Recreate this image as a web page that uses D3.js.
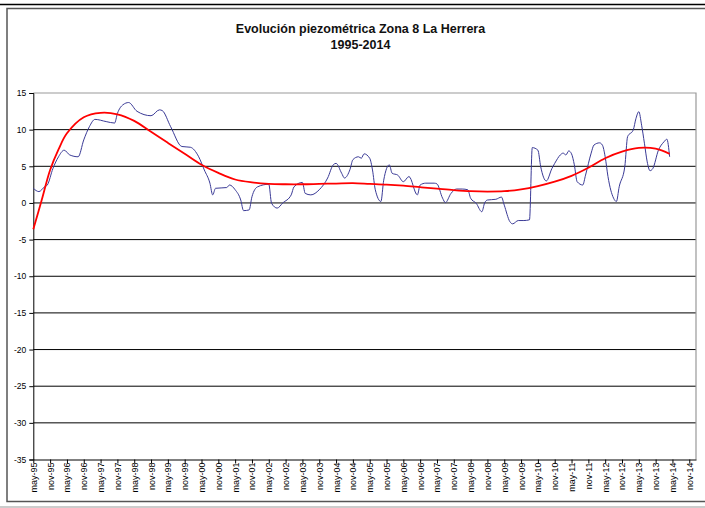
<!DOCTYPE html>
<html>
<head>
<meta charset="utf-8">
<script src="https://cdn.jsdelivr.net/npm/d3@7/dist/d3.min.js"></script>
<style>
  html, body { margin: 0; padding: 0; background: #fff; }
  svg { display: block; }
  text { font-family: "Liberation Sans", Arial, sans-serif; }
</style>
</head>
<body>
<svg id="chart" width="705" height="508"></svg>
<script>
// Piezometric level readings, Zona 8 La Herrera (month "YYYY-MM", level)
const levelMonths = [
  "1995-05","1995-07","1995-09","1995-10","1995-12","1996-02","1996-04","1996-06","1996-09","1996-11",
  "1997-01","1997-03","1997-07","1997-10","1997-11","1998-01","1998-03","1998-06","1998-11","1999-02",
  "1999-03","1999-06","1999-10","2000-01","2000-04","2000-06","2000-08","2000-09","2000-10","2001-02",
  "2001-03","2001-05","2001-07","2001-08","2001-10","2001-11","2002-01","2002-05","2002-06","2002-08",
  "2002-10","2003-01","2003-02","2003-05","2003-06","2003-08","2003-11","2004-02","2004-04","2004-05",
  "2004-07","2004-08","2004-10","2004-11","2005-01","2005-02","2005-03","2005-05","2005-06","2005-07",
  "2005-09","2005-10","2005-12","2006-01","2006-03","2006-05","2006-07","2006-10","2006-11","2007-01",
  "2007-04","2007-05","2007-07","2007-08","2007-10","2007-12","2008-02","2008-04","2008-05","2008-07",
  "2008-09","2008-10","2008-11","2009-02","2009-04","2009-05","2009-07","2009-08","2009-10","2009-12",
  "2010-02","2010-03","2010-05","2010-06","2010-08","2010-10","2010-11","2011-01","2011-02","2011-03",
  "2011-04","2011-05","2011-06","2011-07","2011-09","2011-10","2011-12","2012-01","2012-03","2012-04",
  "2012-05","2012-06","2012-08","2012-09","2012-10","2012-12","2013-01","2013-03","2013-04","2013-05",
  "2013-06","2013-07","2013-08","2013-09","2013-10","2013-12","2014-02","2014-03","2014-04"
];
const levelValues = [
  2.0, 1.55, 2.2, 2.45, 4.7, 6.3, 7.2, 6.55, 6.3, 8.6,
  10.4, 11.4, 11.1, 10.9, 12.2, 13.4, 13.7, 12.5, 11.9, 12.7,
  12.6, 10.4, 7.7, 7.6, 6.3, 4.5, 2.7, 1.1, 2.0, 2.1,
  2.45, 1.8, 0.4, -1.05, -0.95, 0.85, 2.2, 2.55, -0.05, -0.7,
  0.0, 1.1, 2.2, 2.8, 1.3, 1.1, 1.8, 3.4, 5.2, 5.4,
  4.05, 3.4, 4.6, 5.9, 6.3, 6.1, 6.7, 6.1, 4.5, 1.8,
  0.2, 3.1, 5.2, 4.05, 3.8, 2.9, 3.6, 1.1, 2.45, 2.7,
  2.7, 2.6, 0.65, 0.05, 1.3, 1.9, 1.9, 1.8, 0.65, -0.05,
  -1.2, 0.0, 0.4, 0.5, 0.8, -0.3, -2.55, -2.85, -2.4, -2.4,
  -2.3, 7.55, 7.2, 4.95, 3.0, 4.7, 5.4, 6.55, 6.8, 6.55,
  7.1, 6.7, 5.2, 2.9, 2.45, 3.8, 6.8, 7.9, 8.2, 7.9,
  6.3, 3.6, 0.65, 0.2, 2.2, 4.95, 9.05, 9.95, 11.55, 12.45,
  10.6, 8.15, 5.6, 4.4, 4.7, 7.2, 8.35, 8.7, 6.3
];

// Polynomial trend line of the level series
const trendMonths = [
  "1995-05","1995-08","1995-11","1996-02","1996-05","1996-11","1997-05","1997-11","1998-05","1998-11",
  "1999-05","1999-11","2000-05","2000-11","2001-05","2001-11","2002-05","2002-11","2003-05","2003-11",
  "2004-05","2004-11","2005-05","2005-11","2006-05","2006-11","2007-05","2007-11","2008-05","2008-11",
  "2009-05","2009-11","2010-05","2010-11","2011-05","2011-11","2012-05","2012-11","2013-05","2013-11",
  "2014-04"
];
const trendValues = [
  -3.6, 0.4, 4.5, 7.3, 9.5, 11.7, 12.3, 12.1, 11.2, 9.7,
  8.2, 6.7, 5.2, 4.1, 3.2, 2.8, 2.6, 2.55, 2.55, 2.6,
  2.65, 2.7, 2.6, 2.5, 2.35, 2.15, 1.95, 1.75, 1.6, 1.55,
  1.6, 1.85, 2.3, 2.9, 3.7, 4.8, 6.1, 7.0, 7.5, 7.4,
  6.7
];

// Category labels along the time axis, one every six months
const xTickLabels = [
  "may-95","nov-95","may-96","nov-96","may-97","nov-97","may-98","nov-98","may-99","nov-99",
  "may-00","nov-00","may-01","nov-01","may-02","nov-02","may-03","nov-03","may-04","nov-04",
  "may-05","nov-05","may-06","nov-06","may-07","nov-07","may-08","nov-08","may-09","nov-09",
  "may-10","nov-10","may-11","nov-11","may-12","nov-12","may-13","nov-13","may-14","nov-14"
];
const yTicks = [15, 10, 5, 0, -5, -10, -15, -20, -25, -30, -35];

const titleLines = ["Evolución piezométrica Zona 8 La Herrera", "1995-2014"];

// months elapsed since May 1995
const monthIndex = s => {
  const [y, m] = s.split("-").map(Number);
  return (y - 1995) * 12 + (m - 5);
};

const svg = d3.select("#chart");
const plot = { left: 33.3, right: 696, top: 93, bottom: 459.5 };

const x = d3.scaleLinear().domain([0, 236.4]).range([plot.left, plot.right]);
const y = d3.scaleLinear().domain([-35, 15]).range([plot.bottom, plot.top]);

// page rule and chart frame
svg.append("line").attr("x1", 0).attr("x2", 705).attr("y1", 4.5).attr("y2", 4.5)
  .attr("stroke", "#000").attr("stroke-width", 1.6);
svg.append("rect").attr("x", 7).attr("y", 8.5).attr("width", 720).attr("height", 493)
  .attr("fill", "none").attr("stroke", "#555").attr("stroke-width", 1.5);
svg.append("line").attr("x1", 0).attr("x2", 705).attr("y1", 507).attr("y2", 507)
  .attr("stroke", "#bbb").attr("stroke-width", 1.5);

// title
svg.append("g").selectAll("text").data(titleLines).join("text")
  .attr("x", 360.5).attr("y", (d, i) => 33 + i * 15.5)
  .attr("text-anchor", "middle")
  .attr("font-size", "12.5px").attr("font-weight", "bold").attr("fill", "#111")
  .text(d => d);

// horizontal gridlines
svg.append("g").selectAll("line").data(yTicks.filter(v => v !== 15 && v !== -35)).join("line")
  .attr("x1", plot.left).attr("x2", plot.right)
  .attr("y1", d => y(d)).attr("y2", d => y(d))
  .attr("stroke", "#000").attr("stroke-width", 1);

// plot area border (top and right)
svg.append("path")
  .attr("d", `M${plot.left},${y(15)}H${plot.right}V${plot.bottom}`)
  .attr("fill", "none").attr("stroke", "#999").attr("stroke-width", 1.2);

// y axis
const yAxis = d3.axisLeft(y).tickValues(yTicks).tickFormat(d => String(d))
  .tickSize(4).tickPadding(3);
const gy = svg.append("g").attr("transform", `translate(${plot.left},0)`).call(yAxis);
gy.select(".domain").attr("stroke", "#000");
gy.selectAll(".tick line").attr("stroke", "#000");
gy.selectAll(".tick text").attr("font-size", "8.5px").attr("fill", "#000")
  .attr("font-family", "Liberation Sans, Arial, sans-serif");

// x axis
const xAxis = d3.axisBottom(x)
  .tickValues(xTickLabels.map((d, i) => i * 6))
  .tickFormat((d, i) => xTickLabels[i])
  .tickSize(4).tickSizeOuter(0);
const gx = svg.append("g").attr("transform", `translate(0,${plot.bottom})`).call(xAxis);
gx.select(".domain").attr("stroke", "#000");
gx.selectAll(".tick line").attr("stroke", "#000");
gx.selectAll(".tick text")
  .attr("font-size", "9px").attr("fill", "#000")
  .attr("font-family", "Liberation Sans, Arial, sans-serif")
  .attr("text-anchor", "end")
  .attr("transform", "rotate(-90)")
  .attr("x", -3).attr("y", 0).attr("dy", "0.33em");

// level series
const levelData = levelMonths.map((m, i) => ({ m: monthIndex(m), v: levelValues[i] }));
svg.append("path").datum(levelData)
  .attr("fill", "none").attr("stroke", "#3a3a96").attr("stroke-width", 1)
  .attr("d", d3.line().x(d => x(d.m)).y(d => y(d.v)).curve(d3.curveMonotoneX));

// trend line
const trendData = trendMonths.map((m, i) => ({ m: monthIndex(m), v: trendValues[i] }));
svg.append("path").datum(trendData)
  .attr("fill", "none").attr("stroke", "#ff0000").attr("stroke-width", 1.8)
  .attr("d", d3.line().x(d => x(d.m)).y(d => y(d.v)).curve(d3.curveCatmullRom));
</script>
</body>
</html>
